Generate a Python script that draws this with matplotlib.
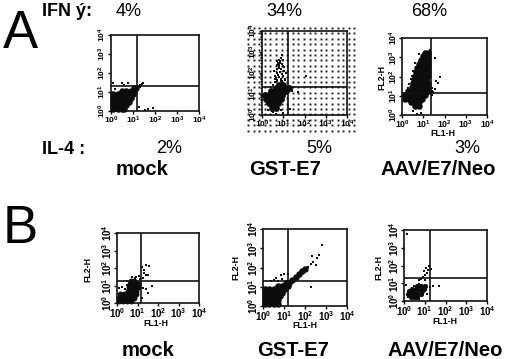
import numpy as np
import matplotlib
matplotlib.use('Agg')
import matplotlib.pyplot as plt

plt.rcParams['font.family'] = ['Liberation Sans', 'DejaVu Sans']
plt.rcParams['mathtext.fontset'] = 'custom'
plt.rcParams['mathtext.bf'] = 'Liberation Sans:bold'
plt.rcParams['mathtext.rm'] = 'Liberation Sans:bold'
plt.rcParams['mathtext.default'] = 'bf'
plt.rcParams['font.weight'] = 'bold'

W, H = 505, 359

# event positions are decades (0-4 on both axes)
# dense part of each cloud is given row by row, strays as plain x / y lists
a1_rows_y = [0.1, 0.3, 0.5, 0.7, 0.9, 1.05, 1.2]
a1_rows_x = [[0.1, 0.3, 0.5, 0.6], [0.1, 0.3, 0.5, 0.7], [0.1, 0.3, 0.5, 0.7, 0.8], [0.1, 0.3, 0.5, 0.7, 0.9],
             [0.1, 0.3, 0.5, 0.7, 0.9, 1.0], [0.5, 0.7, 0.9, 1.05], [1.05, 1.15]]
a1_x = [0.1, 0.5, 0.6, 0.75, 1.0, 1.1, 1.3, 1.4, 1.45, 0.2, 1.3, 1.25, 1.55, 1.9, 1.7]
a1_y = [1.5, 1.45, 1.35, 1.45, 1.2, 1.25, 1.25, 1.4, 1.5, 1.15, 1.35, 0.2, 0.05, 0.15, 0.1]

a2_rows_y = [0.35, 0.55, 0.75, 0.95, 1.15, 1.3, 1.45]
a2_rows_x = [[0.45, 0.65], [0.35, 0.55, 0.75], [0.2, 0.4, 0.6, 0.8, 0.9], [0.15, 0.35, 0.55, 0.75, 0.95],
             [0.4, 0.6, 0.8, 1.0, 1.15], [0.65, 0.85, 1.05, 1.25], [0.8, 1.0]]
a2_x = [0.5, 0.6, 0.7, 0.75, 0.85, 0.95, 1.05, 0.65, 0.8, 0.9, 1.0, 0.7, 0.85, 0.95, 1.05, 0.8, 0.9, 1.0, 0.85, 0.95,
        1.05, 0.9, 1.0, 0.95, 1.1, 1.15, 0.3, 0.5, 1.0, 1.3, 1.4, 1.7, 2.05, 0.45, 0.65, 0.9, 0.7, 0.8, 0.75, 0.85,
        0.6, 0.7, 0.55, 0.78, 0.72, 0.82, 0.88, 0.6, 0.75, 0.95, 1.1, 0.7]
a2_y = [1.45, 1.55, 1.6, 1.5, 1.45, 1.6, 1.5, 1.75, 1.8, 1.7, 1.85, 2.0, 2.05, 1.95, 2.1, 2.25, 2.2, 2.35, 2.5, 2.45,
        2.3, 2.7, 2.6, 2.85, 1.7, 2.0, 0.25, 0.15, 0.1, 0.3, 1.15, 1.1, 1.85, 0.2, 0.05, 0.25, 2.4, 2.45, 2.5, 2.55,
        1.85, 1.65, 2.1, 2.35, 2.55, 2.62, 1.62, 1.7, 1.9, 1.55, 1.65, 2.2]

a3_rows_y = [0.45, 0.65, 0.85, 1.05, 1.25, 1.45, 1.65, 1.85, 2.05, 2.25, 2.45, 2.65, 2.85, 3.05, 3.2]
a3_rows_x = [[0.6, 0.8], [0.4, 0.6, 0.8], [0.15, 0.35, 0.55, 0.75, 0.95], [0.15, 0.35, 0.55, 0.75, 0.95, 1.1],
             [0.3, 0.5, 0.7, 0.9, 1.1, 1.2], [0.45, 0.65, 0.85, 1.05, 1.2], [0.5, 0.7, 0.9, 1.1, 1.2],
             [0.55, 0.75, 0.95, 1.15], [0.6, 0.8, 1.0, 1.2], [0.65, 0.85, 1.05, 1.2], [0.7, 0.9, 1.1, 1.2],
             [0.8, 1.0, 1.2], [0.9, 1.05, 1.2], [1.0, 1.2], [1.1, 1.2]]
a3_x = [0.3, 0.35, 0.4, 0.45, 0.5, 0.6, 0.9, 0.5, 0.7, 1.4, 1.45, 1.4, 1.6, 1.7, 1.8, 1.35, 1.55, 1.4, 1.3, 1.55, 0.8]
a3_y = [1.4, 1.6, 1.85, 2.05, 2.3, 2.7, 0.1, 0.2, 0.05, 1.25, 1.2, 1.05, 1.75, 1.65, 1.95, 2.6, 2.95, 1.4, 3.4, 1.35, 3.15]

b1_rows_y = [0.1, 0.3, 0.5, 0.7, 0.9, 1.1, 1.25]
b1_rows_x = [[0.1, 0.3, 0.5, 0.7], [0.1, 0.3, 0.5, 0.7, 0.85], [0.15, 0.35, 0.55, 0.75, 0.95], [0.55, 0.75, 0.95],
             [0.6, 0.8, 1.0], [0.65, 0.85, 1.0], [0.7, 0.85]]
b1_x = [0.1, 0.25, 0.4, 0.5, 0.5, 0.6, 0.75, 0.95, 1.05, 1.1, 1.25, 1.3, 1.4, 1.5, 1.2, 1.3, 1.4, 1.55, 1.7, 1.25, 1.4, 1.5, 1.2, 0.9]
b1_y = [0.85, 0.9, 0.8, 1.05, 1.25, 1.15, 1.5, 1.5, 1.55, 1.35, 1.45, 1.7, 1.6, 1.6, 2.05, 1.9, 2.15, 2.1, 0.95, 0.85, 0.8, 0.55, 0.3, 1.45]

b2_rows_y = [0.1, 0.3, 0.5, 0.7, 0.9, 1.05, 1.2, 1.35, 1.5, 1.65, 1.8, 1.92]
b2_rows_x = [[0.1, 0.3, 0.5, 0.7], [0.1, 0.3, 0.5, 0.7], [0.1, 0.3, 0.5, 0.7, 0.8], [0.1, 0.3, 0.5, 0.7, 0.9],
             [0.1, 0.3, 0.5, 0.7, 0.9, 1.05], [0.7, 0.9, 1.05, 1.2], [1.1, 1.25], [1.4], [1.55], [1.7], [1.85], [2.0]]
b2_x = [0.5, 0.7, 0.9, 1.1, 1.0, 1.2, 2.15, 2.3, 2.4, 2.55, 2.5, 2.35, 2.65, 2.3, 0.85, 1.55, 2.8, 0.4, 0.6]
b2_y = [1.35, 1.3, 1.4, 1.3, 1.65, 1.65, 2.05, 2.2, 2.3, 2.5, 2.15, 2.6, 2.65, 1.0, 1.6, 1.45, 3.15, 1.3, 1.45]

b3_rows_y = [0.25, 0.4, 0.55, 0.7, 0.85]
b3_rows_x = [[0.35, 0.5, 0.65], [0.2, 0.4, 0.6, 0.8], [0.25, 0.45, 0.65, 0.85], [0.4, 0.6, 0.8, 0.95], [0.65, 0.8, 1.0]]
b3_x = [0.1, 0.2, 0.7, 0.9, 1.0, 1.1, 0.95, 1.15, 1.05, 1.2, 1.3, 0.2, 1.0, 0.5, 0.7, 1.25, 1.4, 1.7, 1.1, 0.7, 0.15, 0.8]
b3_y = [0.9, 0.55, 1.2, 1.35, 1.45, 1.55, 1.7, 1.75, 1.85, 1.95, 1.8, 0.2, 1.2, 0.85, 0.95, 0.8, 0.85, 0.85, 0.4, 0.1, 3.8, 1.25]

# panel rects in picture pixels: left, top, right, bottom, gate x, gate y
panels = [
    (111, 35, 199, 111, 137, 86, a1_rows_y, a1_rows_x, a1_x, a1_y),
    (262, 31, 347, 115, 288, 87, a2_rows_y, a2_rows_x, a2_x, a2_y),
    (402, 38, 487, 115, 431, 93, a3_rows_y, a3_rows_x, a3_x, a3_y),
    (117, 233, 199, 303, 141, 281, b1_rows_y, b1_rows_x, b1_x, b1_y),
    (263, 229, 347, 306, 288, 281, b2_rows_y, b2_rows_x, b2_x, b2_y),
    (404, 230, 487, 301, 430, 278, b3_rows_y, b3_rows_x, b3_x, b3_y),
]
tick_sizes = [6, 6, 6.2, 7, 7, 7]
core_sizes = [22, 24, 22, 18, 22, 14]

fig = plt.figure(figsize=(W/100, H/100), dpi=100)

# pixel canvas for the dotted background behind the middle panel
bg = fig.add_axes([0, 0, 1, 1], zorder=0)
bg.set_xlim(0, W)
bg.set_ylim(H, 0)
bg.axis('off')
dx, dy = np.meshgrid(np.arange(248, 356, 5.6), np.arange(28, 134, 5.4))
bg.plot(dx.ravel(), dy.ravel(), ls='', marker='s', ms=1.4, mew=0, c='#222222')

for i, (l, t, r, b, gx, gy, rows_y, rows_x, sx, sy) in enumerate(panels):
    ax = fig.add_axes([l/W, 1-b/H, (r-l)/W, (b-t)/H], zorder=2)
    ax.patch.set_alpha(0)
    ax.set_xscale('log')
    ax.set_yscale('log')
    ax.set_xlim(1, 1e4)
    ax.set_ylim(1, 1e4)
    cx = [x for row in rows_x for x in row]
    cy = [y for y, row in zip(rows_y, rows_x) for _ in row]
    ax.scatter(10**np.array(cx), 10**np.array(cy), s=core_sizes[i], c='#0c0c0c', marker='o', lw=0, clip_on=False)
    ax.scatter(10**np.array(sx), 10**np.array(sy), s=4.5, c='#111111', marker='s', lw=0, clip_on=False)
    # gate lines sit at fixed pixel positions of the panel
    ax.axvline(10**(4*(gx-l)/(r-l)), c='#111111', lw=1.2)
    ax.axhline(10**(4*(b-gy)/(b-t)), c='#111111', lw=1.2)
    for s in ax.spines.values():
        s.set_linewidth(1.2)
        s.set_color('#111111')
    ax.tick_params(which='major', length=2, width=1.0, labelsize=tick_sizes[i], pad=0.5)
    ax.tick_params(which='minor', length=1.3, width=0.7)
    ax.set_xticks([1, 10, 100, 1000, 10000])
    ax.set_yticks([1, 10, 100, 1000, 10000])
    ax.tick_params(axis='y', labelrotation=90)
    for lab in ax.get_yticklabels():
        lab.set_va('center')


def put(x, y, txt, size, **kwargs):
    kwargs.setdefault('ha', 'center')
    fig.text(x/W, 1-y/H, txt, fontsize=size, va='center', zorder=5, **kwargs)


put(20, 34, 'A', 38, weight='normal')
put(20, 229, 'B', 38, weight='normal')

put(42, 11, 'IFN ý:', 13, ha='left')
put(42, 150, 'IL-4 :', 13, ha='left')

pct_top = ['4%', '34%', '68%']
pct_top_x = [129, 284, 429]
pct_low = ['2%', '5%', '3%']
pct_low_x = [169, 319, 467]
names = ['mock', 'GST-E7', 'AAV/E7/Neo']
names_a_x = [142, 285, 438]
names_b_x = [148, 293, 445]
for i in range(3):
    put(pct_top_x[i], 12, pct_top[i], 13, weight='normal')
    put(pct_low_x[i], 149, pct_low[i], 13, weight='normal')
    put(names_a_x[i], 170, names[i], 14.6)
    put(names_b_x[i], 351, names[i], 14.6)

fl1_pos = [(443, 134), (156, 324), (305, 326), (445, 322)]
fl2_pos = [(382, 78), (88, 269), (236, 268), (379, 267)]
for x, y in fl1_pos:
    put(x, y, 'FL1-H', 6.3)
for x, y in fl2_pos:
    put(x, y, 'FL2-H', 6.3, rotation=90)

plt.savefig('out.png', dpi=100)
